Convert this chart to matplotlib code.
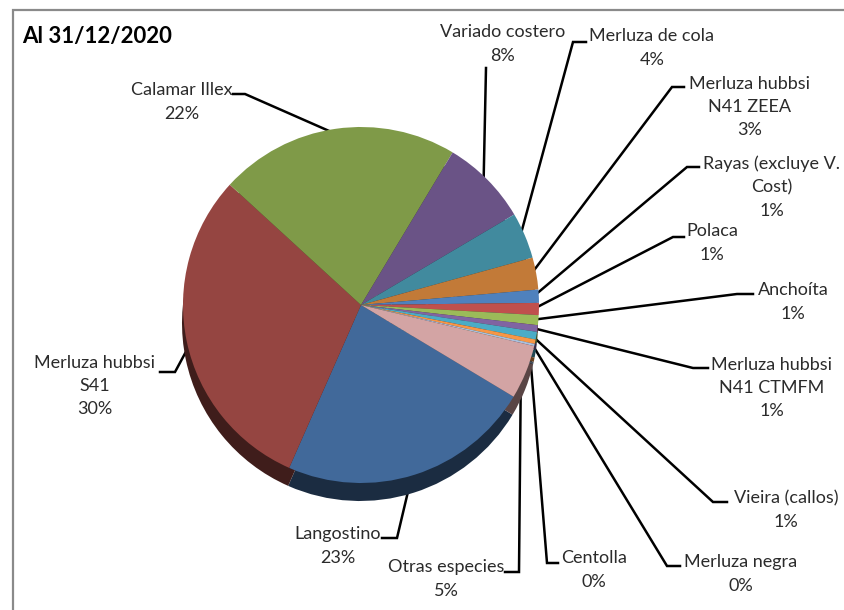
import numpy as np
import matplotlib.pyplot as plt
import matplotlib.colors as mcolors
from matplotlib.patches import Rectangle

plt.rcParams['font.family'] = ['Lato', 'DejaVu Sans']

W, H = 845, 610

# participación por especie (%), en el orden en que se reparte la torta
especies = ["Langostino", "Merluza hubbsi\nS41", "Calamar Illex", "Variado costero",
            "Merluza de cola", "Merluza hubbsi\nN41 ZEEA", "Rayas (excluye V.\nCost)",
            "Polaca", "Anchoíta", "Merluza hubbsi\nN41 CTMFM", "Vieira (callos)",
            "Merluza negra", "Centolla", "Otras especies"]
participacion = [23.0, 30.2, 21.8, 7.9, 4.2, 2.9, 1.2, 1.1, 0.9, 0.6, 0.7, 0.4, 0.2, 4.9]
colores = ["#41699a", "#954541", "#7f9a48", "#6a5386", "#418a9e", "#c27a38",
           "#4f81bd", "#c0504d", "#9bbb59", "#8064a2", "#4bacc6", "#f79646",
           "#a9c0de", "#d3a4a4"]

# centro de cada etiqueta y tramo horizontal de la línea guía (en píxeles, y hacia abajo)
pos_texto = [(338, 546), (95, 386), (182, 102), (503, 44), (652, 48), (750, 107),
             (772, 187), (712, 243), (793, 302), (772, 388), (786, 510), (741, 574),
             (594, 570), (446, 579)]
tramos = [((382, 538), (397, 538)), ((160, 372), (175, 372)), ((233, 94), (245, 94)),
          ((486, 68), (486, 68)), ((586, 42), (573, 42)), ((684, 87), (672, 87)),
          ((699, 167), (687, 167)), ((684, 237), (673, 237)), ((753, 294), (737, 294)),
          ((708, 368), (693, 368)), ((727, 502), (713, 502)), ((680, 566), (667, 566)),
          ((558, 563), (547, 563)), ((505, 572), (519, 572))]

cx, cy, r = 361, H - 305, 178

fig = plt.figure(figsize=(W / 100, H / 100), dpi=100)
ax = fig.add_axes([0, 0, 1, 1])

# sombra / costado de la torta
sombra = [np.array(mcolors.to_rgb(c)) * 0.42 for c in colores]
ax.pie(participacion, colors=sombra, startangle=-31, counterclock=False,
       center=(cx - 1, cy - 18), radius=r, wedgeprops=dict(linewidth=0, zorder=2))
wedges, _ = ax.pie(participacion, colors=colores, startangle=-31, counterclock=False,
                   center=(cx, cy), radius=r, wedgeprops=dict(linewidth=0, zorder=3))

total = sum(participacion)
for w, nombre, v, (tx, ty), (p0, p1) in zip(wedges, especies, participacion, pos_texto, tramos):
    ang = np.deg2rad((w.theta1 + w.theta2) / 2)
    ex, ey = cx + 0.97 * r * np.cos(ang), cy + 0.97 * r * np.sin(ang)
    ax.plot([p0[0], p1[0], ex], [H - p0[1], H - p1[1], ey], color="black", lw=1.8,
            solid_joinstyle="miter", zorder=1)
    ax.text(tx, H - ty, f"{nombre}\n{v / total * 100:.0f}%", ha="center", va="center",
            multialignment="center", fontsize=13, color="#2b2b2b", linespacing=1.55, zorder=4)

ax.text(22, H - 36, "Al 31/12/2020", ha="left", va="center", fontsize=16,
        fontweight="bold", color="black")

# marco del gráfico
ax.add_patch(Rectangle((13, -10), W, H, fill=False, edgecolor="#8a8a8a",
                       lw=1.6, zorder=5))

ax.set_xlim(0, W)
ax.set_ylim(0, H)
ax.set_aspect("equal")
ax.axis("off")

fig.savefig("out.png", dpi=100)
